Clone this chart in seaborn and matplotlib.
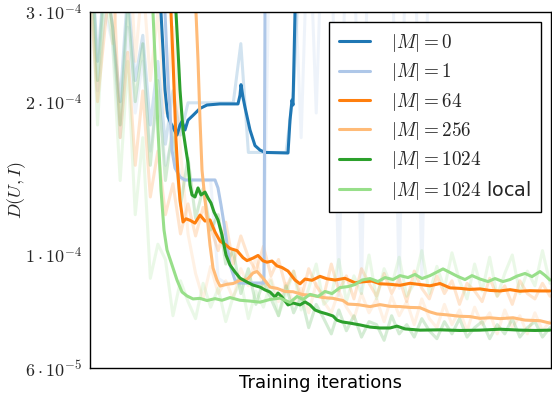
import numpy as np
import matplotlib
matplotlib.use("Agg")
import matplotlib.pyplot as plt
import seaborn as sns
from matplotlib.ticker import NullLocator

# values below are in units of 1e-5, x in training iterations
labels = [r'$|M| = 0$', r'$|M| = 1$', r'$|M| = 64$', r'$|M| = 256$',
          r'$|M| = 1024$', r'$|M| = 1024$ local']
colors = ['#1f77b4', '#aec7e8', '#ff7f0e', '#ffbb78', '#2ca02c', '#98df8a']

# smoothed curves
m0_iters = [6000, 7100, 7300, 7500, 7700, 7800, 8100, 8300, 8700, 9000, 9200, 9500, 9800,
            10300, 11000, 11700, 13000, 14800, 15000, 15100, 15300, 15500, 16000, 16500,
            17000, 17500, 19800, 20000, 20200, 20300, 20400, 20500, 20700, 46000]
m0_vals = [40, 29.9, 25.3, 21.1, 19.3, 18.7, 18.1, 17.8, 17.2, 18.0, 18.3, 17.6, 18.4,
           18.8, 19.4, 19.7, 19.8, 19.8, 20.6, 21.6, 20.4, 19.5, 17.6, 16.4,
           16.07, 15.9, 15.86, 18.4, 20.15, 19.7, 24.15, 29.9, 40, 40]

m1_iters = [6800, 7500, 7800, 8000, 8200, 8500, 9000, 9500, 12500, 12800, 13100, 13500,
            14000, 14500, 15000, 17400, 17500, 17600, 46000]
m1_vals = [40, 29.9, 22.06, 19.26, 16.07, 14.82, 14.23, 14.04, 14.04, 13.54, 12.54, 11.2,
           9.56, 8.93, 8.81, 8.81, 29.9, 40, 40]

m64_iters = [7500, 8100, 8300, 8600, 8800, 9000, 9300, 9600, 10000, 10500, 11000, 11500,
             12000, 12500, 13000, 13500, 14000, 14700, 15300, 15700, 16300, 16800, 17300,
             17700, 18200, 18700, 19200, 19800, 20500, 21000, 21500, 22200, 23000, 23700,
             24500, 25500, 26500, 27300, 28200, 29000, 30000, 31000, 32000, 33000, 34000,
             35000, 36000, 37000, 38000, 39000, 40000, 41000, 42000, 43000, 44000, 45000,
             46000]
m64_vals = [40, 29.9, 24.15, 16.82, 14.36, 12.82, 11.61, 11.78, 11.70, 11.55, 11.98, 11.66,
            11.72, 11.10, 10.65, 10.50, 10.30, 10.20, 9.88, 9.75, 9.86, 9.98, 9.74,
            9.68, 9.73, 9.52, 9.45, 9.30, 8.93, 8.78, 8.97, 8.92, 9.08, 8.98,
            8.93, 9.00, 8.82, 8.86, 8.89, 8.78, 8.76, 8.72, 8.80, 8.75, 8.70,
            8.79, 8.62, 8.60, 8.56, 8.58, 8.52, 8.50, 8.55, 8.49, 8.51, 8.50,
            8.50]

m256_iters = [10000, 10600, 10800, 11000, 11200, 11500, 11800, 12000, 12300, 12700, 13000,
              13700, 14300, 15000, 15700, 16300, 16700, 17300, 18000, 18700, 19500, 20300,
              21300, 22300, 23300, 24300, 25300, 25800, 26800, 28000, 29000, 30000, 31000,
              32000, 33000, 34000, 34700, 35700, 37000, 38000, 39000, 40000, 41000, 42300,
              43500, 45000, 46000]
m256_vals = [40, 29.9, 24.15, 18.41, 14.69, 12.82, 11.45, 10.46, 9.43, 8.93, 8.69,
             8.76, 8.79, 8.92, 8.95, 9.22, 9.28, 9.01, 8.65, 8.60, 8.48, 8.47,
             8.36, 8.33, 8.25, 8.22, 8.14, 8.01, 7.99, 7.92, 7.99, 7.93, 7.92,
             7.89, 7.88, 7.73, 7.66, 7.63, 7.58, 7.57, 7.51, 7.53, 7.50, 7.53,
             7.45, 7.43, 7.35]

m1024_iters = [8000, 8600, 8800, 9000, 9300, 9600, 9800, 10000, 10200, 10500, 10800, 11100,
               11500, 11800, 12100, 12400, 12800, 13200, 13600, 14000, 14500, 15000, 15700,
               16300, 17000, 17500, 18000, 18500, 18800, 19200, 19800, 20300, 21000, 21500,
               22000, 22500, 23000, 23700, 24300, 24700, 25200, 26000, 27000, 28000, 29000,
               30000, 30700, 31500, 33000, 35000, 37000, 39000, 41000, 43000, 44500, 46000]
m1024_vals = [40, 29.9, 25.27, 21.09, 17.6, 16.07, 15.16, 13.72, 13.12, 13.0, 13.54, 13.12,
              13.29, 12.94, 12.65, 12.15, 11.72, 10.95, 10.0, 9.56, 9.26, 9.01, 8.85,
              8.73, 8.65, 8.54, 8.46, 8.27, 8.42, 8.27, 7.98, 8.05, 7.98, 8.09,
              7.98, 7.80, 7.73, 7.66, 7.59, 7.45, 7.39, 7.35, 7.29, 7.22, 7.19,
              7.19, 7.25, 7.16, 7.12, 7.13, 7.11, 7.12, 7.15, 7.12, 7.11, 7.12]

local_iters = [5500, 6300, 6600, 6800, 7100, 7400, 7700, 8200, 8700, 9200, 9700, 10300,
               11000, 11700, 12500, 13200, 14000, 15000, 16000, 17000, 18000, 19000, 20000,
               20700, 21300, 22000, 22800, 23500, 24200, 25000, 25800, 26500, 27200, 28000,
               28800, 29500, 30300, 31000, 31800, 32500, 33200, 34000, 34700, 35300, 36000,
               36700, 37500, 38200, 39000, 39800, 40500, 41300, 42000, 42700, 43500, 44200,
               45000, 45500, 46000]
local_vals = [40, 29.9, 22.06, 17.6, 13.42, 11.2, 10.23, 9.56, 8.93, 8.46, 8.31, 8.20,
              8.22, 8.14, 8.21, 8.15, 8.25, 8.15, 8.12, 8.08, 8.18, 8.23, 8.07,
              8.29, 8.18, 8.37, 8.29, 8.48, 8.40, 8.63, 8.67, 8.75, 8.93, 8.99,
              8.87, 9.03, 8.95, 9.11, 9.03, 9.16, 8.99, 9.11, 9.26, 9.39, 9.24,
              9.09, 8.95, 9.11, 8.97, 8.87, 8.99, 8.87, 8.95, 9.09, 9.20, 9.07,
              9.28, 9.12, 8.93]

# raw (unsmoothed) logs, 62 evenly spaced evaluations
raw_iters = np.linspace(0, 46000, 62)
m0_raw = [44, 24, 36, 28, 20, 33, 22, 27, 18, 24, 16.5, 21, 17.2, 19.9, 19.9, 19.9, 19.9,
          19.9, 19.9, 19.9, 26, 15.9, 15.9, 15.9, 15.9, 15.9, 15.9, 21, 45, 36, 50, 40,
          55, 42, 50, 38, 55, 45, 52, 40, 50, 45, 55, 40, 52, 45, 50, 42, 55, 45, 50,
          40, 52, 45, 55, 42, 50, 45, 52, 40, 55, 45]
m1_raw = [38, 21, 30, 26, 17, 28, 19, 24, 16, 21, 15, 17, 14.1, 14.0, 14.0, 14.0, 14.0,
          9.0, 8.8, 8.8, 8.8, 8.8, 8.8, 8.8, 60, 45, 55, 40, 17, 50, 19, 55,
          45, 8.3, 50, 45, 8.4, 55, 40, 50, 45, 8.6, 55, 50, 9.0, 45, 60, 50, 55,
          45, 50, 60, 45, 55, 50, 60, 45, 55, 50, 60, 45, 50]
m64_raw = [34, 20, 28, 38, 17, 25, 15, 21, 13, 16, 12, 13.8, 11.0, 12.6, 10.9, 12.4, 11.3,
           10.2, 11.6, 9.6, 10.9, 9.9, 9.3, 10.4, 9.1, 9.8, 8.6, 9.3, 8.2, 9.4, 8.7, 8.3,
           9.6, 8.5, 9.1, 8.2, 9.4, 8.8, 8.3, 9.2, 8.4, 9.0, 8.1, 9.3, 8.6, 8.2, 9.1, 8.4,
           8.9, 8.0, 8.8, 8.5, 8.1, 9.0, 8.3, 8.7, 8.0, 8.9, 8.4, 8.2, 8.8, 8.3]
m256_raw = [50, 30, 45, 26, 38, 48, 24, 35, 22, 30, 19, 28, 16, 11, 9.2, 8.2, 9.5,
            8.4, 8.9, 8.2, 9.4, 8.7, 9.9, 8.6, 9.0, 8.1, 8.8, 8.0, 8.6, 7.7, 8.8, 8.1,
            7.7, 8.5, 7.9, 7.5, 8.4, 7.7, 8.2, 7.4, 8.3, 7.6, 8.1, 7.3, 8.2, 7.5, 7.2, 8.0,
            7.3, 7.8, 7.1, 7.9, 7.3, 7.7, 7.0, 7.8, 7.2, 7.6, 7.0, 7.7, 7.1, 7.4]
m1024_raw = [45, 22, 36, 28, 18, 31, 20, 26, 15, 22, 14, 18, 12.5, 15.5, 11.8, 13.5, 11.2,
             12.0, 9.6, 10.2, 8.4, 9.4, 8.0, 8.9, 8.2, 7.6, 8.7, 7.7, 8.3, 7.2, 8.0, 7.5,
             7.0, 7.8, 7.1, 7.6, 6.9, 7.4, 7.3, 6.8, 7.6, 7.0, 7.3, 6.9, 7.5, 7.1, 6.85,
             7.4, 7.0, 7.5, 6.9, 7.2, 7.4, 6.85, 7.3, 7.0, 7.5, 6.9, 7.2, 7.4, 6.9, 7.2]
local_raw = [40, 18, 33, 26, 14, 24, 12, 17, 9.0, 10.5, 9.8, 7.6, 8.9, 8.1, 7.5, 8.8, 7.9,
             8.6, 7.4, 8.3, 8.9, 7.5, 8.5, 7.9, 8.9, 7.6, 8.4, 9.3, 7.8, 8.6, 9.6, 8.0,
             8.3, 9.8, 8.1, 9.1, 8.4, 10.0, 8.2, 9.4, 8.7, 9.9, 8.3, 8.8, 10.2, 8.4, 9.5,
             8.6, 10.1, 8.9, 8.2, 9.6, 8.5, 9.9, 8.3, 9.2, 10.0, 8.4, 9.3, 8.7, 10.2, 8.8]

smooth = [(m0_iters, m0_vals), (m1_iters, m1_vals), (m64_iters, m64_vals),
          (m256_iters, m256_vals), (m1024_iters, m1024_vals), (local_iters, local_vals)]
raws = [m0_raw, m1_raw, m64_raw, m256_raw, m1024_raw, local_raw]

sns.set_theme(style="white")
plt.rcParams['mathtext.fontset'] = 'cm'
plt.rcParams['font.family'] = ['DejaVu Sans']

fig = plt.figure(figsize=(5.52, 3.96), dpi=100)
ax = fig.add_axes([90 / 552, 28 / 396, 461 / 552, 356 / 396])

for raw, c in zip(raws, colors):
    sns.lineplot(x=raw_iters, y=np.array(raw) * 1e-5, ax=ax, color=c, lw=2.2,
                 alpha=0.2, estimator=None)

for (xs, ys), c, lab in zip(smooth, colors, labels):
    sns.lineplot(x=xs, y=np.array(ys) * 1e-5, ax=ax, color=c, lw=2.2,
                 label=lab, estimator=None)

ax.set_yscale('log')
ax.set_ylim(6e-5, 3e-4)
ax.set_xlim(0, 46100)
ax.yaxis.set_minor_locator(NullLocator())
ax.set_yticks([6e-5, 1e-4, 2e-4, 3e-4])
ax.set_yticklabels([r'$6 \cdot 10^{-5}$', r'$1 \cdot 10^{-4}$',
                    r'$2 \cdot 10^{-4}$', r'$3 \cdot 10^{-4}$'], fontsize=13)
ax.set_xticks([])
ax.tick_params(axis='y', length=0, pad=6)
ax.set_xlabel('Training iterations', fontsize=13, color='black')
ax.set_ylabel(r'$D(U, I)$', fontsize=13)
ax.yaxis.set_label_coords(-0.135, 0.5)
for sp in ax.spines.values():
    sp.set_color('black')
    sp.set_linewidth(1.0)

leg = ax.legend(loc='upper right', fontsize=13.8, fancybox=False, framealpha=1,
                edgecolor='black', handlelength=1.6, handletextpad=1.1,
                borderpad=0.55, labelspacing=0.38)
leg.get_frame().set_linewidth(1.0)

fig.savefig('out.png', dpi=100)
